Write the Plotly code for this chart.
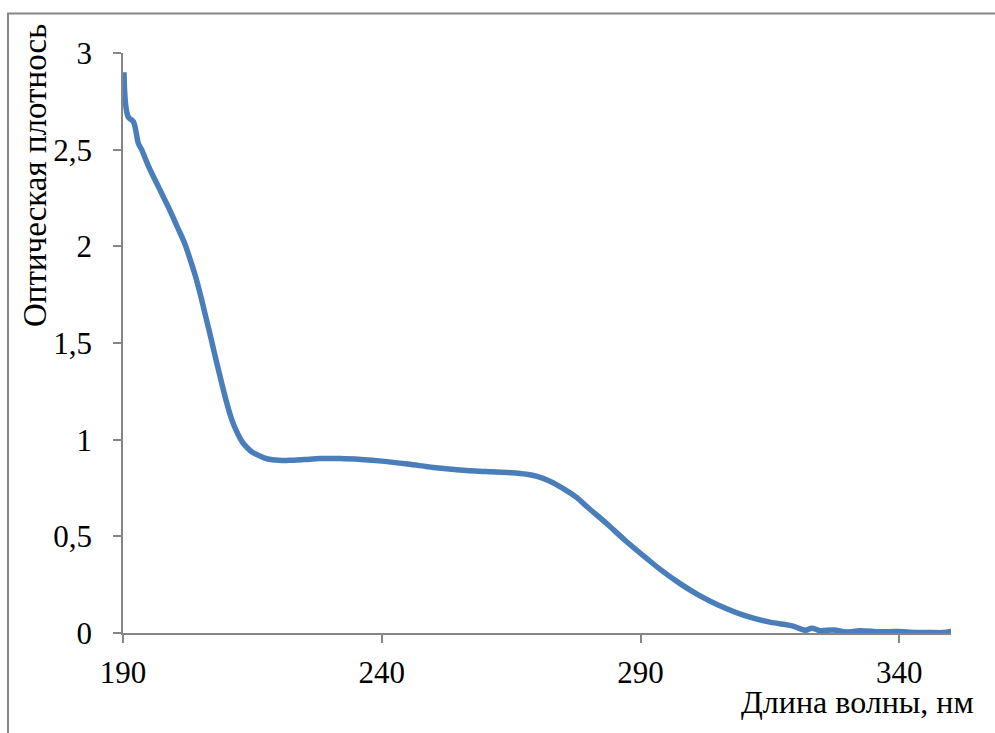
import plotly.graph_objects as go

wavelength = [190.2, 191.0, 192.0, 193.0, 193.6, 195, 197, 199, 200.5, 202, 203, 204, 205, 206, 207,
              208, 209, 210, 211, 212, 213, 214, 215, 216.5, 218, 220, 222, 225, 228, 232, 236, 240,
              245, 250, 255, 260, 265, 268, 270, 272.5, 275, 277.7, 280, 283.5, 287, 291, 294, 297.5,
              301, 305, 310.5, 315, 319.5, 321.8, 323.1, 324.7, 327.3, 329.8, 332.4, 336.3, 339.5,
              342, 345.3, 348.5, 350.1]
density = [2.90, 2.67, 2.645, 2.53, 2.50, 2.41, 2.30, 2.19, 2.10, 2.01, 1.93, 1.845, 1.745, 1.635, 1.525,
           1.41, 1.30, 1.195, 1.105, 1.04, 0.99, 0.958, 0.935, 0.915, 0.90, 0.893, 0.893, 0.897, 0.902,
           0.902, 0.897, 0.889, 0.874, 0.856, 0.843, 0.835, 0.829, 0.821, 0.81, 0.785, 0.748, 0.70,
           0.645, 0.565, 0.48, 0.39, 0.325, 0.258, 0.20, 0.145, 0.087, 0.056, 0.036, 0.014, 0.025,
           0.012, 0.016, 0.005, 0.012, 0.006, 0.008, 0.004, 0.003, 0.002, 0.01]

x_ticks = [190, 240, 290, 340]
y_ticks = [0, 0.5, 1, 1.5, 2, 2.5, 3]
x_title = "Длина волны, нм"
y_title = "Оптическая плотнось"

FONT = "Liberation Serif"
GRAY = "#868686"

fig = go.Figure()
fig.add_trace(go.Scatter(
    x=wavelength, y=density, mode="lines",
    line=dict(color="#4A7EBB", width=5.5, shape="spline", smoothing=1.0),
    cliponaxis=False, showlegend=False, hoverinfo="skip"))

W, H = 995, 733
L, R, T, B = 123, 44, 53, 100
pw, ph = W - L - R, H - T - B

def px(x):
    return (x - L) / pw

def py(y):
    return (H - B - y) / ph

fig.update_layout(
    width=W, height=H,
    margin=dict(l=L, r=R, t=T, b=B, pad=0),
    paper_bgcolor="white", plot_bgcolor="white",
    separators=", ",
    font=dict(family=FONT, size=30, color="black"),
    xaxis=dict(range=[190, 350], tickvals=x_ticks, showgrid=False, zeroline=False,
               showline=True, linecolor=GRAY, linewidth=1.6,
               ticks="outside", ticklen=8, tickwidth=1.6, tickcolor=GRAY,
               ticklabelstandoff=3, tickfont=dict(family=FONT, size=31, color="black")),
    yaxis=dict(range=[0, 3], tickvals=y_ticks, showgrid=False, zeroline=False,
               showline=True, linecolor=GRAY, linewidth=1.6,
               ticks="outside", ticklen=8, tickwidth=1.6, tickcolor=GRAY,
               ticklabelstandoff=15, tickfont=dict(family=FONT, size=31, color="black")),
    shapes=[dict(type="rect", xref="paper", yref="paper",
                 x0=px(8), x1=px(1005), y0=py(745), y1=py(13.5),
                 line=dict(color=GRAY, width=2), fillcolor="rgba(0,0,0,0)", layer="below")],
    annotations=[
        dict(text=y_title, xref="paper", yref="paper", x=px(35), y=py(176),
             xanchor="center", yanchor="middle", textangle=-90, showarrow=False,
             font=dict(family=FONT, size=33, color="black")),
        dict(text=x_title, xref="paper", yref="paper", x=px(976), y=py(702),
             xanchor="right", yanchor="middle", showarrow=False,
             font=dict(family=FONT, size=32, color="black")),
    ],
)

fig.write_html("out.html")
